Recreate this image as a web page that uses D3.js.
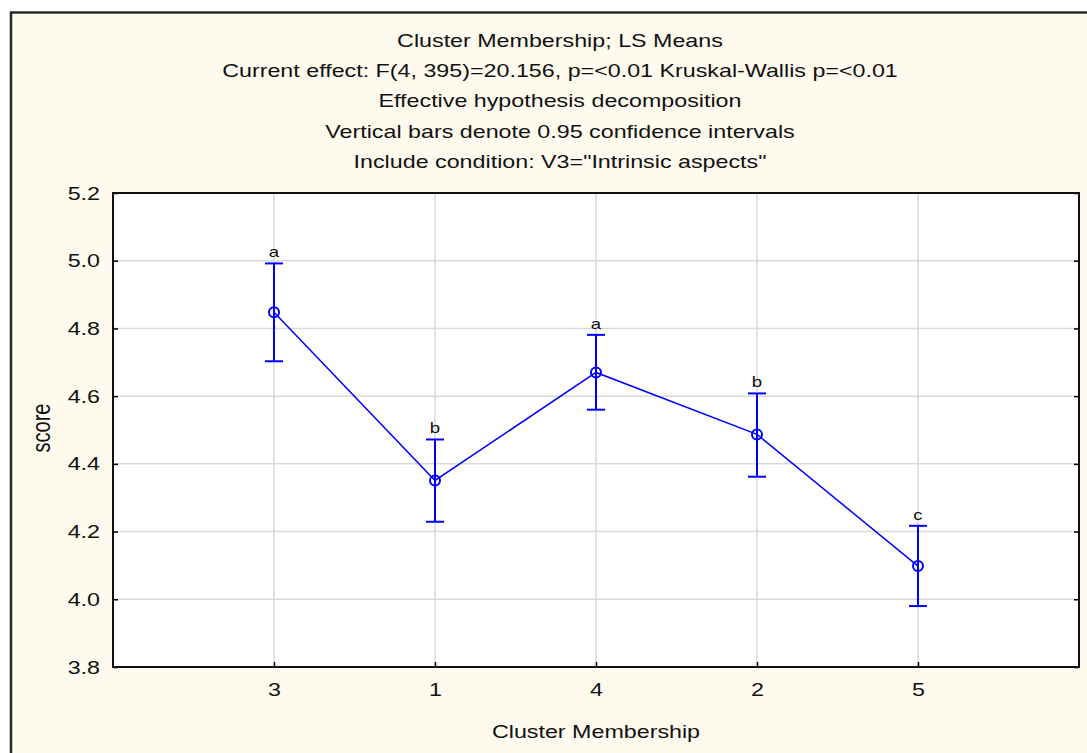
<!DOCTYPE html>
<html><head><meta charset="utf-8">
<script src="https://cdn.jsdelivr.net/npm/d3@7"></script>
<style>
html,body{margin:0;padding:0;background:#fff;}
svg{display:block;font-family:"Liberation Sans",Arial,sans-serif;}
</style></head>
<body>
<svg id="chart" width="1087" height="753"></svg>
<script>
const categories = ["3","1","4","2","5"];
const means = [4.848, 4.351, 4.670, 4.487, 4.098];
const upper = [4.992, 4.472, 4.781, 4.608, 4.217];
const lower = [4.703, 4.229, 4.560, 4.362, 3.980];
const groupLetters = ["a","b","a","b","c"];
const yTicks = [3.8, 4.0, 4.2, 4.4, 4.6, 4.8, 5.0, 5.2];
const titleLines = [
  "Cluster Membership; LS Means",
  "Current effect: F(4, 395)=20.156, p=<0.01 Kruskal-Wallis p=<0.01",
  "Effective hypothesis decomposition",
  "Vertical bars denote 0.95 confidence intervals",
  "Include condition: V3=\"Intrinsic aspects\""
];
const xTitle = "Cluster Membership";
const yTitle = "score";

const data = categories.map((c,i)=>({c, m:means[i], hi:upper[i], lo:lower[i], l:groupLetters[i]}));
const SX = 1.33; // horizontal stretch of the original typeface

const svg = d3.select("#chart");
const L=113, R=1079, T=193, B=667;

svg.append("rect").attr("x",11).attr("y",12.5).attr("width",1100).attr("height",760)
  .attr("fill","#fffaee").attr("stroke","#2a2a2a").attr("stroke-width",2.5);

const x = d3.scalePoint().domain(categories).range([L,R]).padding(1);
const y = d3.scaleLinear().domain([3.8,5.2]).range([B,T]);

svg.append("rect").attr("x",L).attr("y",T).attr("width",R-L).attr("height",B-T).attr("fill","#fff");

const g = svg.append("g");
g.selectAll(".hg").data(yTicks.slice(1,-1)).join("line")
  .attr("x1",L).attr("x2",R).attr("y1",d=>y(d)).attr("y2",d=>y(d))
  .attr("stroke","#d9d9d9").attr("stroke-width",1.5);
g.selectAll(".vg").data(categories).join("line")
  .attr("x1",d=>x(d)).attr("x2",d=>x(d)).attr("y1",T).attr("y2",B)
  .attr("stroke","#d9d9d9").attr("stroke-width",1.5);

const yAxisL = d3.axisLeft(y).tickValues(yTicks).tickFormat(d3.format(".1f")).tickSize(-5).tickPadding(13);
const ga = svg.append("g").attr("transform",`translate(${L},0)`).call(yAxisL);
const yAxisR = d3.axisRight(y).tickValues(yTicks).tickFormat("").tickSize(-5);
const gr = svg.append("g").attr("transform",`translate(${R},0)`).call(yAxisR);
const xAxis = d3.axisBottom(x).tickSize(-5).tickPadding(17);
const gx = svg.append("g").attr("transform",`translate(0,${B})`).call(xAxis);
[ga,gr,gx].forEach(a=>{
  a.select(".domain").remove();
  a.attr("font-family",null).attr("font-size",null);
  a.selectAll(".tick line").attr("stroke","#000").attr("stroke-width",1.5);
  a.selectAll(".tick text").attr("fill","#111").style("font-size","17.5px");
});
ga.selectAll(".tick text").attr("dy","0.35em").attr("x",-13/SX).attr("transform",`scale(${SX},1)`);
gx.selectAll(".tick text").attr("dy","0.71em").attr("transform",`scale(${SX},1)`);

svg.append("rect").attr("x",L).attr("y",T).attr("width",R-L).attr("height",B-T)
  .attr("fill","none").attr("stroke","#111").attr("stroke-width",2);

const line = d3.line().x(d=>x(d.c)).y(d=>y(d.m));
svg.append("path").datum(data).attr("d",line).attr("fill","none").attr("stroke","#0000ff").attr("stroke-width",1.5);

const eb = svg.append("g").attr("stroke","#0000ff").attr("stroke-width",2);
eb.selectAll(".v").data(data).join("line")
  .attr("x1",d=>x(d.c)).attr("x2",d=>x(d.c)).attr("y1",d=>y(d.hi)).attr("y2",d=>y(d.lo));
eb.selectAll(".t").data(data).join("line")
  .attr("x1",d=>x(d.c)-9).attr("x2",d=>x(d.c)+9).attr("y1",d=>y(d.hi)).attr("y2",d=>y(d.hi));
eb.selectAll(".b").data(data).join("line")
  .attr("x1",d=>x(d.c)-9).attr("x2",d=>x(d.c)+9).attr("y1",d=>y(d.lo)).attr("y2",d=>y(d.lo));

svg.selectAll(".pt").data(data).join("circle")
  .attr("cx",d=>x(d.c)).attr("cy",d=>y(d.m)).attr("r",5)
  .attr("fill","none").attr("stroke","#0000ff").attr("stroke-width",2);

svg.selectAll(".lt").data(data).join("text")
  .attr("transform",d=>`translate(${x(d.c)},${y(d.hi)-6}) scale(${SX},1)`).attr("text-anchor","middle")
  .style("font-size","14px").attr("fill","#111").text(d=>d.l);

svg.selectAll(".title").data(titleLines).join("text")
  .attr("transform",(d,i)=>`translate(560,${47+i*30.2}) scale(${SX},1)`).attr("text-anchor","middle")
  .style("font-size","17.5px").attr("fill","#111").text(d=>d);

svg.append("text").attr("transform",`translate(596,738) scale(${SX},1)`).attr("text-anchor","middle")
  .style("font-size","17.5px").attr("fill","#111").text(xTitle);
svg.append("text").attr("transform",`translate(50,428) scale(${SX},1) rotate(-90)`).attr("text-anchor","middle")
  .style("font-size","20px").attr("fill","#111").text(yTitle);
</script>
</body></html>
